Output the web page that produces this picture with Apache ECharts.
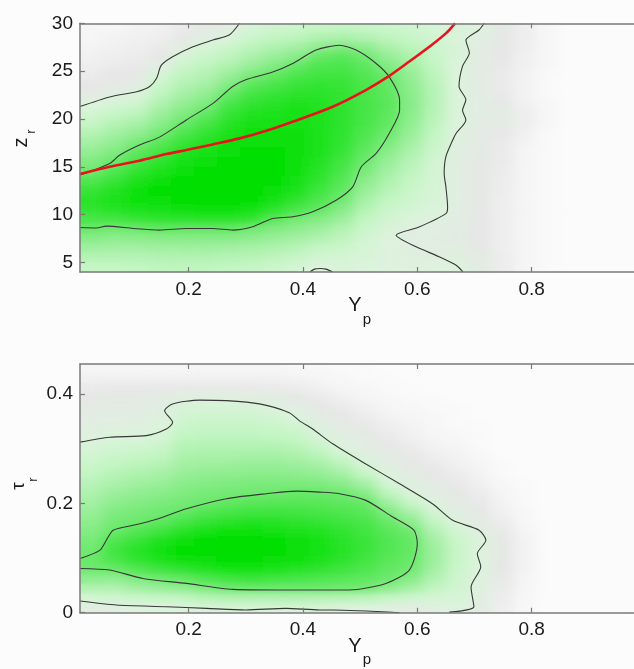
<!DOCTYPE html>
<html><head><meta charset="utf-8">
<script src="https://cdn.jsdelivr.net/npm/echarts@6/dist/echarts.min.js"></script>
<style>
html,body{margin:0;padding:0;background:#fcfcfc;overflow:hidden;}
#wrap{position:relative;width:634px;height:669px;}
.layer{position:absolute;left:0;top:0;width:634px;height:669px;}
#a1{filter:url(#soft);clip-path:path('M80 23.3 H660 V272 H80 Z M80 364 H660 V612.7 H80 Z');}
</style>
</head><body>
<svg width="0" height="0" style="position:absolute"><filter id="soft" x="-5%" y="-5%" width="110%" height="110%"><feGaussianBlur stdDeviation="7 3"/></filter></svg>
<div id="wrap"><div id="a0" class="layer"></div><div id="a1" class="layer"></div><div id="b" class="layer"></div></div>
<script>
// ---- data ----
// heatmap cell centres (x shared by both panels)
const cellX = [0.03,0.07,0.11,0.15,0.19,0.23,0.27,0.31,0.35,0.39,0.43,0.47,0.51,0.55,0.59,0.63,0.67,0.71,0.75,0.79,0.83,0.87,0.91,0.95,0.99];
const topCellY = [4.5,5.5,6.5,7.5,8.5,9.5,10.5,11.5,12.5,13.5,14.5,15.5,16.5,17.5,18.5,19.5,20.5,21.5,22.5,23.5,24.5,25.5,26.5,27.5,28.5,29.5];
const botCellY = [0.00875,0.02625,0.04375,0.06125,0.07875,0.09625,0.11375,0.13125,0.14875,0.16625,0.18375,0.20125,0.21875,0.23625,0.25375,0.27125,0.28875,0.30625,0.32375,0.34125,0.35875,0.37625,0.39375,0.41125,0.42875,0.44625];
// density level (0-10) per column, listed from top row to bottom row
const topDensity = [
[0.3,0.3,0.4,0.5,0.6,0.8,1.0,1.3,2.0,2.5,3.0,3.5,4.0,4.5,5.0,5.5,6.3,7.0,7.5,7.2,6.5,5.6,4.8,4.1,3.5,3.0],
[0.3,0.4,0.5,0.6,0.8,1.0,1.2,1.8,2.4,3.0,3.5,4.0,4.5,5.0,5.6,6.3,7.0,7.8,8.0,7.6,6.7,5.4,4.6,4.0,3.5,3.0],
[0.4,0.5,0.6,0.7,0.9,1.1,1.5,2.1,2.7,3.3,3.9,4.5,5.2,5.9,6.6,7.3,8.0,8.7,8.6,8.0,7.0,5.6,4.7,4.0,3.5,3.1],
[0.5,0.6,0.8,1.0,1.6,2.3,2.8,3.2,3.7,4.2,4.7,5.3,6.0,6.7,7.4,8.1,8.8,9.2,9.0,8.4,7.3,5.8,4.8,4.1,3.6,3.2],
[0.8,1.0,1.6,2.3,2.8,3.2,3.6,4.0,4.5,5.0,5.6,6.3,7.0,7.7,8.4,9.0,9.5,9.6,9.3,8.6,7.4,5.8,4.8,4.1,3.6,3.2],
[1.2,1.7,2.3,2.8,3.2,3.6,4.0,4.5,5.1,5.8,6.5,7.1,7.7,8.3,8.9,9.4,9.8,10,9.6,8.8,7.5,5.8,4.8,4.1,3.6,3.2],
[1.5,2.1,2.7,3.2,3.7,4.3,5.0,5.8,6.5,7.1,7.6,8.1,8.6,9.0,9.4,9.7,9.9,10,9.6,8.8,7.5,5.8,4.8,4.0,3.5,3.1],
[2.3,2.8,3.3,3.8,4.4,5.2,6.0,6.7,7.3,7.8,8.2,8.6,9.0,9.3,9.6,9.8,9.8,9.7,9.3,8.5,7.2,5.4,4.6,3.9,3.4,3.0],
[2.6,3.1,3.7,4.3,5.0,5.8,6.5,7.1,7.6,8.0,8.4,8.7,9.0,9.2,9.4,9.4,9.3,9.0,8.4,7.4,6.0,5.0,4.3,3.7,3.2,2.8],
[2.8,3.3,4.0,4.8,5.7,6.4,7.0,7.5,7.9,8.2,8.5,8.7,8.8,8.8,8.8,8.7,8.4,8.0,7.3,6.4,5.3,4.6,4.0,3.4,2.9,2.4],
[3.0,3.7,4.6,5.7,6.3,6.8,7.2,7.5,7.8,8.0,8.1,8.1,8.1,8.0,7.8,7.5,7.2,6.8,6.3,5.7,4.9,4.2,3.6,3.0,2.5,2.0],
[3.1,3.8,5.0,6.0,6.4,6.8,7.0,7.2,7.3,7.4,7.4,7.3,7.2,7.0,6.7,6.4,6.1,5.8,5.4,4.8,4.2,3.6,3.2,2.8,2.4,2.2],
[3.0,3.6,4.6,5.4,5.9,6.2,6.4,6.5,6.6,6.6,6.5,6.3,6.1,5.8,5.5,5.1,4.7,4.3,3.9,3.5,3.1,2.8,2.5,2.3,2.2,2.1],
[2.8,3.2,3.8,4.4,5.0,5.5,5.8,5.9,6.0,5.9,5.8,5.5,5.1,4.7,4.3,4.0,3.7,3.4,3.1,2.8,2.5,2.2,2.0,1.9,1.9,1.9],
[2.6,2.9,3.3,3.7,4.1,4.4,4.6,4.7,4.8,4.7,4.5,4.3,4.0,3.7,3.4,3.2,3.0,2.8,2.6,2.4,2.1,1.8,1.6,1.7,1.8,1.8],
[2.3,2.5,2.7,2.9,3.1,3.3,3.4,3.5,3.5,3.4,3.3,3.1,2.9,2.7,2.5,2.4,2.4,2.3,2.2,2.1,1.9,1.6,1.5,1.6,1.8,1.9],
[2.2,2.1,2.2,2.2,2.1,2.0,2.0,2.1,2.1,2.1,2.0,1.9,1.8,1.7,1.6,1.6,1.6,1.6,1.6,1.6,1.5,1.4,1.4,1.6,1.8,1.9],
[1.9,1.7,1.5,1.5,1.4,1.4,1.4,1.5,1.5,1.5,1.4,1.3,1.2,1.2,1.1,1.1,1.1,1.1,1.1,1.1,1.0,1.0,1.0,1.1,1.3,1.4],
[1.1,1.1,1.0,1.0,0.9,0.8,0.8,0.9,1.1,1.4,1.3,1.0,0.8,0.8,0.8,0.7,0.7,0.7,0.6,0.6,0.6,0.6,0.6,0.6,0.7,0.7],
[0.6,0.6,0.6,0.5,0.5,0.4,0.4,0.4,0.5,0.6,0.6,0.5,0.4,0.3,0.3,0.3,0.3,0.3,0.3,0.3,0.3,0.3,0.3,0.3,0.3,0.3],
[0.2,0.2,0.2,0.2,0.2,0.1,0.1,0.1,0.2,0.2,0.2,0.1,0.1,0.1,0.1,0.1,0.1,0.1,0.1,0.1,0.1,0.1,0.1,0.1,0.1,0.1],
[0,0,0,0,0,0,0,0,0,0,0,0,0,0,0,0,0,0,0,0,0,0,0,0,0,0],
[0,0,0,0,0,0,0,0,0,0,0,0,0,0,0,0,0,0,0,0,0,0,0,0,0,0],
[0,0,0,0,0,0,0,0,0,0,0,0,0,0,0,0,0,0,0,0,0,0,0,0,0,0],
[0,0,0,0,0,0,0,0,0,0,0,0,0,0,0,0,0,0,0,0,0,0,0,0,0,0]
];
const botDensity = [
[0.3,0.5,0.8,1.1,1.3,1.5,1.6,1.8,2.2,2.5,2.8,3.1,3.4,3.7,4.0,4.3,4.6,4.9,5.2,5.4,5.6,5.4,4.6,3.6,2.4,1.6],
[0.3,0.5,0.9,1.2,1.4,1.5,1.7,2.0,2.4,2.8,3.1,3.4,3.8,4.2,4.6,5.0,5.3,5.6,6.3,6.8,6.4,5.6,4.5,3.6,2.6,1.8],
[0.3,0.5,0.9,1.2,1.4,1.6,1.8,2.0,2.5,2.9,3.3,3.7,4.1,4.5,4.9,5.2,5.5,6.2,7.0,7.6,7.2,6.2,5.0,4.0,2.8,1.9],
[0.3,0.5,0.9,1.3,1.6,1.8,2.0,2.3,2.7,3.1,3.5,3.9,4.3,4.7,5.1,5.4,5.9,6.8,7.9,8.5,8.0,6.8,5.4,4.3,3.0,2.0],
[0.3,0.5,0.9,1.7,2.2,2.5,2.8,3.1,3.4,3.7,4.0,4.3,4.7,5.0,5.3,5.7,6.5,7.6,8.8,9.3,8.7,7.3,5.8,4.5,3.1,2.1],
[0.3,0.5,0.9,1.8,2.3,2.6,2.9,3.2,3.5,3.8,4.1,4.5,4.9,5.2,5.5,6.2,7.1,8.2,9.4,9.8,9.1,7.8,6.3,5.0,3.4,2.2],
[0.3,0.5,0.9,1.8,2.3,2.6,2.9,3.2,3.5,3.8,4.2,4.6,5.0,5.3,5.8,6.6,7.5,8.6,9.7,10,9.4,8.2,6.7,5.4,3.6,2.3],
[0.3,0.5,0.9,1.6,2.2,2.6,2.9,3.2,3.5,3.9,4.3,4.7,5.1,5.4,6.0,6.8,7.7,8.7,9.6,9.9,9.4,8.3,6.9,5.5,3.6,2.3],
[0.3,0.5,0.8,1.4,1.9,2.4,2.8,3.1,3.5,3.9,4.3,4.7,5.1,5.5,6.1,6.8,7.6,8.5,9.3,9.6,9.1,8.0,6.7,5.5,3.6,2.3],
[0.2,0.4,0.7,1.1,1.5,2.0,2.5,2.9,3.3,3.7,4.2,4.6,5.1,5.6,6.1,6.7,7.4,8.1,8.8,9.0,8.6,7.6,6.5,5.5,3.6,2.3],
[0.2,0.3,0.5,0.8,1.1,1.4,1.8,2.2,2.8,3.3,3.9,4.4,5.0,5.6,6.0,6.5,7.1,7.7,8.2,8.4,8.1,7.3,6.3,5.5,3.5,2.2],
[0.1,0.2,0.3,0.5,0.8,1.0,1.3,1.6,1.9,2.5,3.3,4.0,4.7,5.4,5.9,6.3,6.8,7.2,7.5,7.6,7.4,6.8,6.1,5.4,3.4,2.1],
[0.1,0.1,0.2,0.3,0.5,0.7,0.9,1.2,1.5,1.8,2.2,3.0,3.9,4.8,5.6,6.0,6.4,6.7,6.9,6.9,6.7,6.3,5.8,5.3,3.3,2.0],
[0,0.1,0.1,0.2,0.3,0.4,0.6,0.8,1.0,1.3,1.6,1.9,2.4,3.2,4.1,5.0,5.6,6.0,6.2,6.2,6.0,5.8,5.5,4.6,3.0,1.8],
[0,0,0.1,0.1,0.2,0.3,0.4,0.5,0.7,0.9,1.1,1.4,1.7,2.1,2.9,3.8,4.6,5.4,5.7,5.7,5.6,5.4,4.8,3.9,2.6,1.6],
[0,0,0,0.1,0.1,0.2,0.2,0.3,0.4,0.6,0.8,1.0,1.3,1.6,1.9,2.5,3.1,3.6,4.0,4.2,4.2,4.0,3.6,3.1,2.4,1.7],
[0,0,0,0,0.1,0.1,0.1,0.2,0.3,0.4,0.5,0.7,0.9,1.1,1.3,1.6,2.0,2.5,2.8,2.9,2.9,2.8,2.6,2.5,2.3,2.0],
[0,0,0,0,0,0,0.1,0.1,0.1,0.2,0.3,0.4,0.5,0.7,0.9,1.1,1.4,1.8,2.1,2.0,2.0,2.0,1.9,1.8,1.7,1.5],
[0,0,0,0,0,0,0,0,0,0,0.1,0.1,0.2,0.3,0.4,0.5,0.7,0.9,1.1,1.1,1.1,1.0,0.9,0.8,0.7,0.6],
[0,0,0,0,0,0,0,0,0,0,0,0,0.1,0.1,0.1,0.2,0.2,0.3,0.4,0.4,0.4,0.4,0.3,0.3,0.2,0.2],
[0,0,0,0,0,0,0,0,0,0,0,0,0,0,0,0,0,0,0,0,0,0,0,0,0,0],
[0,0,0,0,0,0,0,0,0,0,0,0,0,0,0,0,0,0,0,0,0,0,0,0,0,0],
[0,0,0,0,0,0,0,0,0,0,0,0,0,0,0,0,0,0,0,0,0,0,0,0,0,0],
[0,0,0,0,0,0,0,0,0,0,0,0,0,0,0,0,0,0,0,0,0,0,0,0,0,0],
[0,0,0,0,0,0,0,0,0,0,0,0,0,0,0,0,0,0,0,0,0,0,0,0,0,0]
];
// contour lines, top panel (Yp, zr)
const topOuterLeft = [[0.01,21.3],[0.062,22.3],[0.109,22.85],[0.132,23.4],[0.144,24.25],[0.152,25.6],[0.172,26.5],[0.2075,27.55],[0.2424,28.25],[0.2716,28.8],[0.289,30.0]];
const topOuterRight = [[0.717,30],[0.708,29.3],[0.685,28.25],[0.691,26.9],[0.679,25.5],[0.673,23.4],[0.685,22],[0.679,20.9],[0.685,19.9],[0.668,18.5],[0.662,17.8],[0.650,16.05],[0.647,14.3],[0.650,12.9],[0.653,10.8],[0.650,10.1],[0.603,8.7],[0.563,7.85],[0.598,6.63],[0.638,5.6],[0.668,4.7],[0.68,4.0]];
const topOuterBottom = [[0.412,4.0],[0.42,4.3],[0.43,4.37],[0.44,4.3],[0.452,4.0]];
const topInner = [[0.01,14.13],[0.062,15.35],[0.079,16.2],[0.114,17.27],[0.149,18.1],[0.196,19.9],[0.242,21.6],[0.277,23.4],[0.30,24.1],[0.347,24.9],[0.382,25.8],[0.423,27.2],[0.464,27.7],[0.493,27.2],[0.528,25.8],[0.551,24.4],[0.569,22.0],[0.569,20.9],[0.551,18.5],[0.528,16.4],[0.502,15.0],[0.487,12.9],[0.458,11.5],[0.417,10.3],[0.382,9.77],[0.347,9.6],[0.312,8.73],[0.277,8.38],[0.242,8.55],[0.196,8.55],[0.149,8.38],[0.103,8.55],[0.056,8.8],[0.039,8.6],[0.01,8.65]];
const redCurve = [[0.01,14.24],[0.062,15.0],[0.114,15.63],[0.161,16.33],[0.196,16.75],[0.242,17.34],[0.289,17.97],[0.336,18.77],[0.382,19.71],[0.452,21.28],[0.510,23.02],[0.551,24.5],[0.586,26.0],[0.621,27.55],[0.650,28.95],[0.666,30]];
// contour lines, bottom panel (Yp, tau_r)
const botOuter = [[0.01,0.312],[0.062,0.321],[0.126,0.324],[0.161,0.336],[0.172,0.348],[0.158,0.3695],[0.172,0.382],[0.219,0.389],[0.266,0.388],[0.324,0.382],[0.376,0.366],[0.394,0.351],[0.417,0.336],[0.452,0.309],[0.510,0.272],[0.569,0.236],[0.627,0.199],[0.662,0.169],[0.708,0.151],[0.720,0.1325],[0.705,0.108],[0.711,0.084],[0.694,0.047],[0.699,0.011],[0.656,0.001]];
const botOuterBottom = [[0.01,0.0213],[0.074,0.014],[0.161,0.011],[0.231,0.008],[0.30,0.005],[0.37,0.008],[0.429,0.005],[0.452,0.005],[0.569,0.0]];
const botInner = [[0.01,0.099],[0.0445,0.114],[0.056,0.1325],[0.068,0.151],[0.103,0.16],[0.138,0.169],[0.196,0.19],[0.266,0.2085],[0.336,0.2177],[0.388,0.2225],[0.429,0.2206],[0.464,0.2177],[0.510,0.2055],[0.557,0.175],[0.594,0.151],[0.6,0.1265],[0.586,0.078],[0.545,0.0536],[0.481,0.0414],[0.394,0.0414],[0.277,0.0427],[0.196,0.0536],[0.12,0.0627],[0.062,0.078],[0.01,0.081]];
// tick labels
const xTicks = [0.2,0.4,0.6,0.8];
const zTicks = [5,10,15,20,25,30];
const tauTicks = [0,0.2,0.4];

// ---- chart ----
const FONT = '"Liberation Sans", Arial, Helvetica, sans-serif';
const axisCol = '#7a7a7a';
const GRIDS = [
  {left:80, top:23.3, width:571.7, height:248.7, containLabel:false, outerBoundsMode:'none'},
  {left:80, top:364, width:571.7, height:248.7, containLabel:false, outerBoundsMode:'none'}
];
function heatData(cols){
  const out = [];
  cols.forEach((col,i)=>col.forEach((v,r)=>out.push([i, col.length-1-r, v])));
  return out;
}
function heatOption(bg){
  return {
    animation:false, backgroundColor:bg, grid:GRIDS,
    xAxis:[{type:'category', gridIndex:0, data:cellX, show:false},{type:'category', gridIndex:1, data:cellX, show:false}],
    yAxis:[{type:'category', gridIndex:0, data:topCellY, show:false},{type:'category', gridIndex:1, data:botCellY, show:false}],
    visualMap:{type:'continuous', show:false, min:0, max:10, dimension:2, seriesIndex:[0,1],
      inRange:{color:['#fbfbfb','#e6e6e6','#ddf3dd','#c6f5c6','#a4f0a4','#80eb80','#5ae75a','#38e438','#1ce21c','#08e008','#00df00']}},
    series:[
      {type:'heatmap', xAxisIndex:0, yAxisIndex:0, data:heatData(topDensity), silent:true, emphasis:{disabled:true}, progressive:0},
      {type:'heatmap', xAxisIndex:1, yAxisIndex:1, data:heatData(botDensity), silent:true, emphasis:{disabled:true}, progressive:0}
    ]
  };
}
function valX(grid, pos, labels){
  return {type:'value', gridIndex:grid, position:pos, min:0.01, max:1.01, z:5,
    axisLine:{show:true,onZero:false,lineStyle:{color:axisCol,width:1.5}},
    axisTick:{show:true,inside:true,length:5,customValues:xTicks,lineStyle:{color:axisCol,width:1.2}},
    axisLabel:{show:labels,customValues:xTicks,margin:8,color:'#1a1a1a',fontSize:19,fontFamily:FONT},
    splitLine:{show:false}};
}
function valY(grid, min, max, ticks){
  return {type:'value', gridIndex:grid, position:'left', min:min, max:max, z:5,
    axisLine:{show:true,onZero:false,lineStyle:{color:axisCol,width:1.5}},
    axisTick:{show:true,inside:true,length:5,customValues:ticks,lineStyle:{color:axisCol,width:1.2}},
    axisLabel:{show:true,customValues:ticks,margin:7,color:'#1a1a1a',fontSize:19,fontFamily:FONT},
    splitLine:{show:false}};
}
function contour(data, xi, yi){
  return {type:'line', xAxisIndex:xi, yAxisIndex:yi, data:data, symbol:'none', showSymbol:false,
    smooth:0.25, silent:true, z:3, lineStyle:{color:'#383838', width:1.1}};
}
function txt(x, y, t, size, rot){
  return {type:'text', x:x, y:y, rotation:rot||0, style:{text:t, fontSize:size, fontFamily:FONT, fill:'#1a1a1a', align:'center', verticalAlign:'middle'}};
}
echarts.init(document.getElementById('a0')).setOption(heatOption('#fcfcfc'));
echarts.init(document.getElementById('a1')).setOption(heatOption('transparent'));
echarts.init(document.getElementById('b')).setOption({
  animation:false, backgroundColor:'transparent', grid:GRIDS,
  xAxis:[valX(0,'bottom',true), valX(0,'top',false), valX(1,'bottom',true), valX(1,'top',false)],
  yAxis:[valY(0,4,30,zTicks), valY(1,0,0.455,tauTicks)],
  series:[
    contour(topOuterLeft,0,0), contour(topOuterRight,0,0), contour(topOuterBottom,0,0), contour(topInner,0,0),
    {type:'line', xAxisIndex:0, yAxisIndex:0, data:redCurve, symbol:'none', showSymbol:false, smooth:0.3, silent:true, z:4,
      lineStyle:{color:'#e8141c', width:2.6}},
    contour(botOuter,2,1), contour(botOuterBottom,2,1), contour(botInner,2,1)
  ],
  graphic:[
    txt(355,305.5,'Y',20), txt(367,319.5,'p',15),
    txt(355,646.2,'Y',20), txt(367,660.2,'p',15),
    txt(21,142.5,'z',20,Math.PI/2), txt(31.5,131.5,'r',13,Math.PI/2),
    txt(19,486,'τ',19,Math.PI/2), txt(33,479.5,'r',13,Math.PI/2)
  ]
});
</script></body></html>
